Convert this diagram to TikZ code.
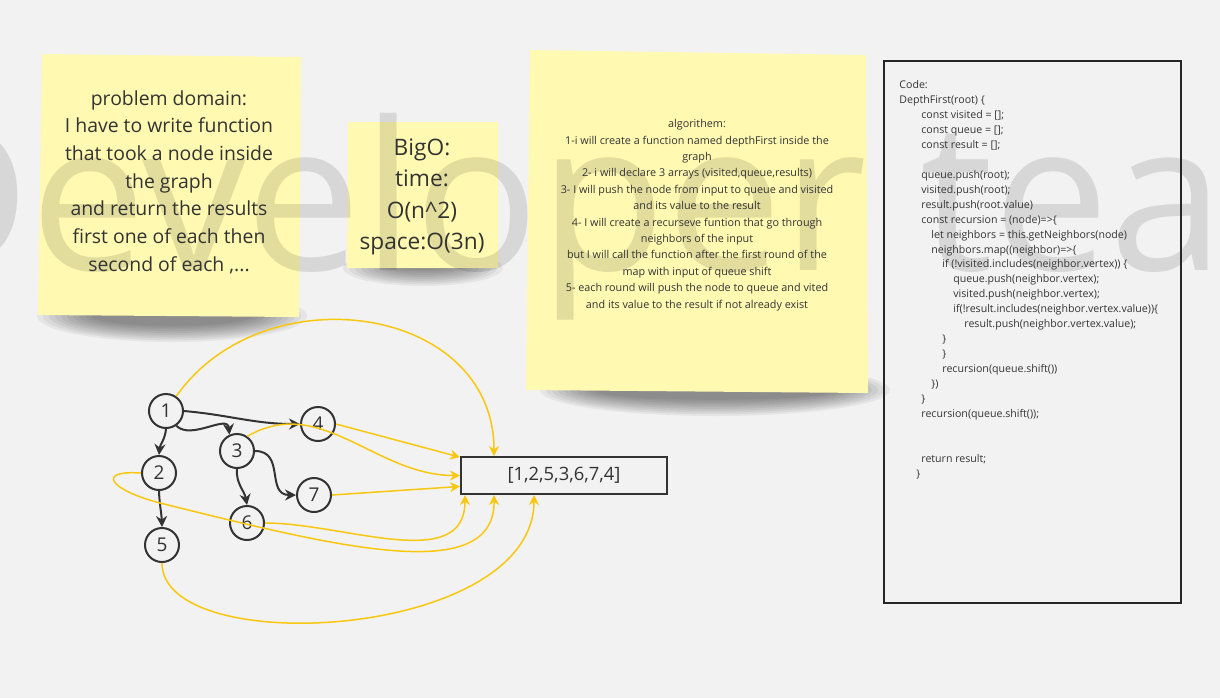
\documentclass[tikz,border=0pt]{standalone}
\usepackage{fontspec}
\setmainfont{Open Sans}
\usetikzlibrary{arrows.meta,calc}
\definecolor{bgc}{HTML}{F2F2F2}
\definecolor{notec}{HTML}{FFF9B1}
\definecolor{linec}{HTML}{FAC710}
\definecolor{inkc}{HTML}{333333}
\newcommand{\ind}[1]{\hspace*{\dimexpr #1pt/2\relax}}
\tikzset{
  vertex/.style={circle,draw=inkc,line width=1pt,minimum size=17pt,inner sep=0pt,text=inkc,font=\fontsize{9.5}{11}\selectfont},
  edge/.style={draw=inkc,line width=1pt,-{Stealth[length=5.5pt,width=5.5pt]}},
  feed/.style={draw=linec,line width=0.75pt,-{Stealth[length=5pt,width=5pt]}},
  note/.style={fill=notec},
  notetext/.style={align=center,inner sep=0pt,text=inkc}
}
\begin{document}
\begin{tikzpicture}[x=0.5pt,y=-0.5pt]
\useasboundingbox (0,0) rectangle (1220,698);
\clip (0,0) rectangle (1220,698);
\fill[bgc] (0,0) rectangle (1220,698);
% shadows under the notes
\foreach \cx/\cy/\rx/\ry in {172/316/135/26, 423/268/80/18, 715/390/175/26}
  \foreach \k in {0,...,9}
    \fill[black,opacity=0.05] (\cx,\cy) ellipse [x radius=\rx-\k*6, y radius=\ry-\k*1.8];
% notes
\fill[note] (42,54) -- (301,57) -- (299,317) -- (38,315) -- cycle;
\fill[note] (348,122) -- (498,122) -- (498,268) -- (347,268) -- cycle;
\fill[note] (530,50) -- (866,55) -- (868,393) -- (526,390) -- cycle;
% watermark
\node[anchor=base west,inner sep=0pt,text=black,opacity=0.11,font=\fontsize{103.5}{110}\selectfont] (mark) at (-121,270) {Developer team};
% texts
\node[notetext,font=\fontsize{9.7}{13.85}\selectfont] (domain) at (169,182) {problem domain:\\I have to write function\\that took a node inside\\the graph\\and return the results\\first one of each then\\second of each ,...};
\node[notetext,font=\fontsize{11.35}{15.65}\selectfont] (bigo) at (422,197) {BigO:\\time:\\O(n\textasciicircum 2)\\space:O(3n)};
\node[notetext,font=\fontsize{5.4}{8.2}\selectfont] (algo) at (697,215) {algorithem:\\1-i will create a function named depthFirst inside the\\graph\\2- i will declare 3 arrays (visited,queue,results)\\3- I will push the node from input to queue and visited\\and its value to the result\\4- I will create a recurseve funtion that go through\\neighbors of the input\\but I will call the function after the first round of the\\map with input of queue shift\\5- each round will push the node to queue and vited\\and its value to the result if not already exist};
% code
\draw[black!85,line width=1pt] (884,61) rectangle (1181,603);
\node[anchor=north west,align=left,inner sep=0pt,text=inkc,font=\fontsize{5.3}{7.48}\selectfont] (code) at (899,80) {Code:\\
DepthFirst(root) \{\\
\ind{22}const visited = [];\\
\ind{22}const queue = [];\\
\ind{22}const result = [];\\
\mbox{}\\
\ind{22}queue.push(root);\\
\ind{22}visited.push(root);\\
\ind{22}result.push(root.value)\\
\ind{22}const recursion = (node)=>\{\\
\ind{32}let neighbors = this.getNeighbors(node)\\
\ind{32}neighbors.map((neighbor)=>\{\\
\ind{43}if (!visited.includes(neighbor.vertex)) \{\\
\ind{54}queue.push(neighbor.vertex);\\
\ind{54}visited.push(neighbor.vertex);\\
\ind{54}if(!result.includes(neighbor.vertex.value))\{\\
\ind{65}result.push(neighbor.vertex.value);\\
\ind{43}\}\\
\ind{43}\}\\
\ind{43}recursion(queue.shift())\\
\ind{32}\})\\
\ind{22}\}\\
\ind{22}recursion(queue.shift());\\
\mbox{}\\
\mbox{}\\
\ind{22}return result;\\
\ind{17}\}};
% graph
\node[vertex] (v1) at (166,411) {1};
\node[vertex] (v2) at (159,473) {2};
\node[vertex] (v3) at (237,451) {3};
\node[vertex] (v4) at (318,424) {4};
\node[vertex] (v5) at (162,545) {5};
\node[vertex] (v6) at (247,523) {6};
\node[vertex] (v7) at (314,495) {7};
\node[draw=inkc,line width=1pt,minimum width=103pt,minimum height=18.5pt,inner sep=0pt,text=inkc,font=\fontsize{9.2}{11}\selectfont] (res) at (564,475.5) {[1,2,5,3,6,7,4]};
\draw[edge] (v1.south) to[out=-95,in=85] (v2.north);
\draw[edge] (v1.-55) to[out=-45,in=95] (v3.115);
\draw[edge] (v1.east) to[out=-5,in=180] (v4.west);
\draw[edge] (v2.south) to[out=-88,in=92] (v5.north);
\draw[edge] (v3.south) to[out=-95,in=100] (v6.north);
\draw[edge] (v3.east) to[out=0,in=180,looseness=1.3] (v7.west);
% into the result
\draw[feed] (v1.55) to[out=55,in=90,looseness=1.2] ($(res.north west)+(34,0)$);
\draw[feed] (v4.east) -- (res.170);
\draw[feed] (v3.55) to[out=30,in=180] (res.west);
\draw[feed] (v7.east) -- (res.186);
\draw[feed] (v6.east) to[out=0,in=-90] ($(res.south west)+(5,0)$);
\draw[feed] (v2.west) .. controls (95,470) and (110,490) .. (160,503) .. controls (330,545) and (495,588) .. ($(res.south west)+(34,0)$);
\draw[feed] (v5.south) .. controls +(0,97) and +(0,145) .. ($(res.south west)+(74,0)$);
\end{tikzpicture}
\end{document}
